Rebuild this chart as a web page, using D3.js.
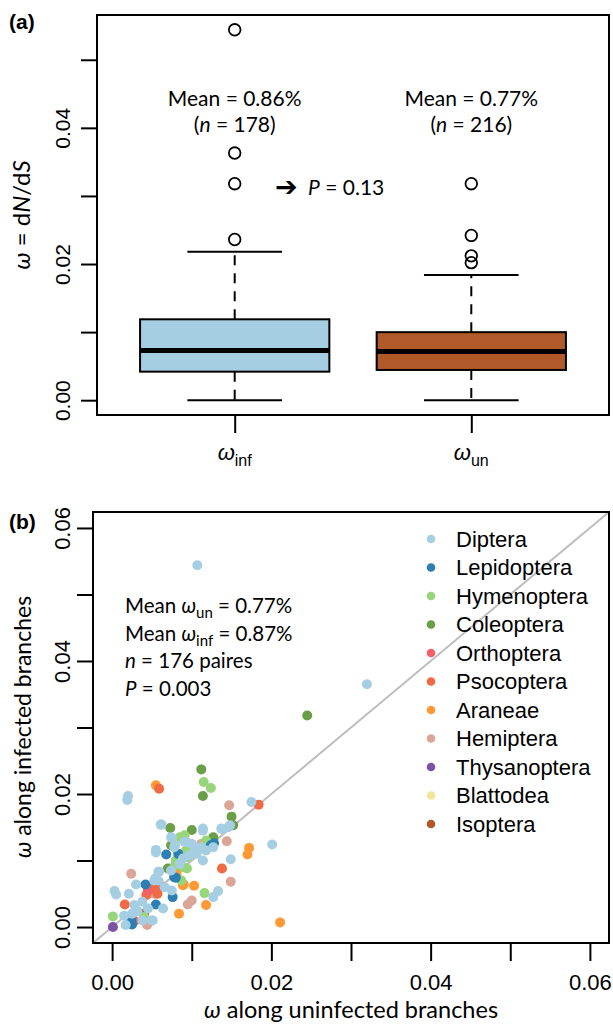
<!DOCTYPE html>
<html>
<head>
<meta charset="utf-8">
<script src="https://cdn.jsdelivr.net/npm/d3@7"></script>
<style>
  body { margin: 0; background: #fff; }
  svg { display: block; }
  .tick text { font-family: "Liberation Sans", Arial, sans-serif; }
</style>
</head>
<body>
<div id="chart"></div>
<script>
// ---- panel (a) : boxplot of omega ----
var groups = ["inf", "un"];
var boxFill = ["#a6cee3", "#b15928"];
var boxQ1 = [0.00419, 0.00444];
var boxMedian = [0.00730, 0.00715];
var boxQ3 = [0.01188, 0.00999];
var whiskLo = [0.0, 0.0];
var whiskHi = [0.02181, 0.01839];
var outliers = [[0.0236, 0.0318, 0.0363, 0.0544], [0.0202, 0.0212, 0.0242, 0.0318]];
var meanText = ["Mean = 0.86%", "Mean = 0.77%"];
var nText = ["178", "216"];
var ticksA = [0, 0.01, 0.02, 0.03, 0.04, 0.05];
var tickLabelsA = [0, 0.02, 0.04];

// ---- panel (b) : infected vs uninfected, by order ----
var orders = ["Diptera", "Lepidoptera", "Hymenoptera", "Coleoptera", "Orthoptera", "Psocoptera",
              "Araneae", "Hemiptera", "Thysanoptera", "Blattodea", "Isoptera"];
var orderColors = ["#a6cee3", "#2b7fb3", "#98d57a", "#6a9e48", "#f26068", "#f06a45",
                   "#fd9a35", "#dba597", "#7b52a6", "#f0e898", "#b0582a"];
// [omega uninfected, omega infected]
var diptera = [[0.0107,0.0544],[0.0320,0.0365],[0.0020,0.0197],[0.0019,0.0191],[0.0061,0.0154],[0.0114,0.0145],
  [0.0075,0.0134],[0.0093,0.0128],[0.0078,0.0120],[0.0055,0.0116],[0.0175,0.0188],[0.0139,0.0147],[0.0146,0.0150],
  [0.0148,0.0153],[0.0137,0.0148],[0.0201,0.0124],[0.0149,0.0102],[0.0127,0.0045],[0.0133,0.0054],[0.0118,0.0115],
  [0.0055,0.0112],[0.0003,0.0054],[0.0005,0.0049],[0.0021,0.0050],[0.0030,0.0064],[0.0050,0.0010],[0.0059,0.0083],
  [0.0053,0.0070],[0.0066,0.0060],[0.0075,0.0055],[0.0028,0.0033],[0.0038,0.0038],[0.0064,0.0028],[0.0015,0.0017],
  [0.0051,0.0010],[0.0038,0.0010],[0.0017,0.0003],[0.0114,0.0100],[0.0074,0.0135],[0.0127,0.0120],[0.0079,0.0123],
  [0.0091,0.0128],[0.0100,0.0125],[0.0104,0.0118],[0.0089,0.0103],[0.0106,0.0110],[0.0074,0.0085],[0.0058,0.0083],
  [0.0054,0.0073],[0.0058,0.0070],[0.0114,0.0148],[0.0025,0.0020],[0.0032,0.0024],[0.0045,0.0028],[0.0085,0.0095],
  [0.0097,0.0108],[0.0062,0.0154],[0.0112,0.0120]];
var lepidoptera = [[0.0124,0.0123],[0.0128,0.0126],[0.0068,0.0109],[0.0083,0.0110],[0.0080,0.0074],[0.0042,0.0064],
  [0.0022,0.0006],[0.0024,0.0010],[0.0025,0.0004],[0.0055,0.0034],[0.0076,0.0045],[0.0078,0.0075]];
var hymenoptera = [[0.0115,0.0218],[0.0124,0.0209],[0.0087,0.0133],[0.0085,0.0135],[0.0091,0.0138],[0.0093,0.0115],
  [0.0095,0.0105],[0.0079,0.0093],[0.0089,0.0090],[0.0087,0.0070],[0.0094,0.0088],[0.0116,0.0051],[0.0001,0.0016],
  [0.0040,0.0015],[0.0118,0.0130],[0.0122,0.0125],[0.0100,0.0110],[0.0080,0.0100]];
var coleoptera = [[0.0112,0.0237],[0.0114,0.0197],[0.0245,0.0318],[0.0073,0.0149],[0.0100,0.0146],[0.0150,0.0166],
  [0.0152,0.0153],[0.0127,0.0132],[0.0127,0.0135],[0.0085,0.0105],[0.0087,0.0108],[0.0074,0.0123],[0.0070,0.0088]];
var orthoptera = [[0.0028,0.0009],[0.0045,0.0055]];
var psocoptera = [[0.0059,0.0208],[0.0184,0.0184],[0.0138,0.0088],[0.0016,0.0034],[0.0043,0.0048],[0.0057,0.0050],
  [0.0049,0.0058],[0.0060,0.0063]];
var araneae = [[0.0055,0.0213],[0.0172,0.0119],[0.0170,0.0109],[0.0118,0.0033],[0.0103,0.0062],[0.0090,0.0064],
  [0.0084,0.0020],[0.0211,0.0007],[0.0081,0.0080],[0.0089,0.0063]];
var hemiptera = [[0.0147,0.0183],[0.0144,0.0129],[0.0149,0.0068],[0.0100,0.0040],[0.0095,0.0034],[0.0024,0.0080],
  [0.0044,0.0003],[0.0053,0.0050],[0.0112,0.0125],[0.0054,0.0060],[0.0048,0.0055]];
var thysanoptera = [[0.0001,0.0000]];
var blattodea = [[0.0090,0.0112]];
var isoptera = [[0.0040,0.0020]];
var orderPoints = [diptera, lepidoptera, hymenoptera, coleoptera, orthoptera, psocoptera,
                   araneae, hemiptera, thysanoptera, blattodea, isoptera];
var ticksB = [0, 0.01, 0.02, 0.03, 0.04, 0.05, 0.06];
var tickLabelsB = [0, 0.02, 0.04, 0.06];

var W = 613, H = 1024;
var annoFont = "Lato, 'Open Sans', sans-serif";
var axFont = "'Liberation Sans', Arial, sans-serif";

var svg = d3.select("#chart").append("svg")
  .attr("width", W).attr("height", H);

// ================= panel (a) =================
var ga = svg.append("g");
var allA = d3.merge(outliers).concat(whiskLo);
var loA = d3.min(allA), hiA = d3.max(allA), padA = 0.04 * (hiA - loA);
var ya = d3.scaleLinear().domain([loA - padA, hiA + padA]).range([415, 15]);
var xa = d3.scalePoint().domain(groups).range([97, 609]).padding(0.582);
var step = xa.step();

ga.append("rect").attr("x", 97).attr("y", 15).attr("width", 512).attr("height", 400)
  .attr("fill", "none").attr("stroke", "#000").attr("stroke-width", 2);

var yAxisA = d3.axisLeft(ya).tickValues(ticksA).tickSize(16)
  .tickFormat(function(d){ return tickLabelsA.indexOf(d) >= 0 ? d3.format(".2f")(d) : ""; });
var yaG = ga.append("g").attr("transform", "translate(97,0)").call(yAxisA);
yaG.select(".domain").remove();
yaG.selectAll(".tick line").attr("stroke-width", 2);
yaG.selectAll(".tick text").attr("font-size", 21).attr("fill", "#000")
  .attr("transform", "rotate(-90)").attr("x", 0).attr("y", -34).attr("dy", "0.35em")
  .attr("text-anchor", "middle");

var xAxisA = d3.axisBottom(xa).tickSize(18).tickFormat("");
var xaG = ga.append("g").attr("transform", "translate(0,415)").call(xAxisA);
xaG.select(".domain").remove();
xaG.selectAll(".tick line").attr("stroke-width", 2);

groups.forEach(function(g, i) {
  var cx = xa(g);
  var lab = ga.append("text").attr("x", cx).attr("y", 460).attr("text-anchor", "middle")
    .attr("font-family", axFont).attr("font-size", 22);
  lab.append("tspan").attr("font-style", "italic").text("ω");
  lab.append("tspan").attr("font-size", 16).attr("dy", 6).text(g);

  // whiskers
  ga.append("line").attr("x1", cx).attr("x2", cx).attr("y1", ya(boxQ3[i])).attr("y2", ya(whiskHi[i]))
    .attr("stroke", "#000").attr("stroke-width", 2).attr("stroke-dasharray", "10,8");
  ga.append("line").attr("x1", cx).attr("x2", cx).attr("y1", ya(boxQ1[i])).attr("y2", ya(whiskLo[i]))
    .attr("stroke", "#000").attr("stroke-width", 2).attr("stroke-dasharray", "10,8");
  [whiskHi[i], whiskLo[i]].forEach(function(v) {
    ga.append("line").attr("x1", cx - step * 0.2).attr("x2", cx + step * 0.2)
      .attr("y1", ya(v)).attr("y2", ya(v)).attr("stroke", "#000").attr("stroke-width", 2);
  });
  ga.append("rect").attr("x", cx - step * 0.4).attr("width", step * 0.8)
    .attr("y", ya(boxQ3[i])).attr("height", ya(boxQ1[i]) - ya(boxQ3[i]))
    .attr("fill", boxFill[i]).attr("stroke", "#000").attr("stroke-width", 2);
  ga.append("line").attr("x1", cx - step * 0.4).attr("x2", cx + step * 0.4)
    .attr("y1", ya(boxMedian[i])).attr("y2", ya(boxMedian[i]))
    .attr("stroke", "#000").attr("stroke-width", 5);
  ga.selectAll(null).data(outliers[i]).enter().append("circle")
    .attr("cx", cx).attr("cy", function(d){ return ya(d); }).attr("r", 5.8)
    .attr("fill", "none").attr("stroke", "#000").attr("stroke-width", 1.8);

  ga.append("text").attr("x", cx).attr("y", 106).attr("text-anchor", "middle")
    .attr("font-family", annoFont).attr("font-size", 21).text(meanText[i]);
  var nt = ga.append("text").attr("x", cx).attr("y", 132).attr("text-anchor", "middle")
    .attr("font-family", annoFont).attr("font-size", 21);
  nt.append("tspan").text("(");
  nt.append("tspan").attr("font-style", "italic").text("n");
  nt.append("tspan").text(" = " + nText[i] + ")");
});

ga.append("text").attr("x", 275).attr("y", 196).attr("font-family", "'DejaVu Sans'")
  .attr("font-size", 27).attr("font-weight", "bold").text("➔");
var pa = ga.append("text").attr("x", 308).attr("y", 195).attr("font-family", annoFont).attr("font-size", 21);
pa.append("tspan").attr("font-style", "italic").text("P");
pa.append("tspan").text(" = 0.13");

var yta = ga.append("text").attr("transform", "translate(30,215) rotate(-90)")
  .attr("text-anchor", "middle").attr("font-family", annoFont).attr("font-size", 24);
yta.append("tspan").attr("font-style", "italic").text("ω");
yta.append("tspan").text(" = d");
yta.append("tspan").attr("font-style", "italic").text("N");
yta.append("tspan").text("/d");
yta.append("tspan").attr("font-style", "italic").text("S");

ga.append("text").attr("x", 9).attr("y", 29).attr("font-family", axFont)
  .attr("font-weight", "bold").attr("font-size", 21).text("(a)");

// ================= panel (b) =================
var gb = svg.append("g");
var limB = [0, 0.06], padB = 0.04 * (limB[1] - limB[0]);
var xb = d3.scaleLinear().domain([limB[0] - padB, limB[1] + padB]).range([93, 609]);
var yb = d3.scaleLinear().domain([limB[0] - padB, limB[1] + padB]).range([943, 512]);

// diagonal y = x
var dom = xb.domain();
gb.append("line").attr("x1", xb(dom[0])).attr("y1", yb(dom[0])).attr("x2", xb(dom[1])).attr("y2", yb(dom[1]))
  .attr("stroke", "#bebebe").attr("stroke-width", 2);

// points, drawn so that Diptera end up on top
for (var k = orders.length - 1; k >= 0; k--) {
  gb.selectAll(null).data(orderPoints[k]).enter().append("circle")
    .attr("cx", function(d){ return xb(d[0]); })
    .attr("cy", function(d){ return yb(d[1]); })
    .attr("r", 5).attr("fill", orderColors[k]);
}

gb.append("rect").attr("x", 93).attr("y", 512).attr("width", 516).attr("height", 431)
  .attr("fill", "none").attr("stroke", "#000").attr("stroke-width", 2);

var fmtB = function(d){ return tickLabelsB.indexOf(d) >= 0 ? d3.format(".2f")(d) : ""; };
var ybG = gb.append("g").attr("transform", "translate(93,0)")
  .call(d3.axisLeft(yb).tickValues(ticksB).tickSize(16).tickFormat(fmtB));
ybG.select(".domain").remove();
ybG.selectAll(".tick line").attr("stroke-width", 2);
ybG.selectAll(".tick text").attr("font-size", 22).attr("fill", "#000")
  .attr("transform", "rotate(-90)").attr("x", 0).attr("y", -31).attr("dy", "0.35em")
  .attr("text-anchor", "middle");

var xbG = gb.append("g").attr("transform", "translate(0,943)")
  .call(d3.axisBottom(xb).tickValues(ticksB).tickSize(18).tickFormat(fmtB));
xbG.select(".domain").remove();
xbG.selectAll(".tick line").attr("stroke-width", 2);
xbG.selectAll(".tick text").attr("font-size", 22).attr("fill", "#000").attr("y", 31).attr("dy", "0.71em");

var xtb = gb.append("text").attr("x", 351).attr("y", 1018).attr("text-anchor", "middle")
  .attr("font-family", annoFont).attr("font-size", 23.5);
xtb.append("tspan").attr("font-style", "italic").text("ω");
xtb.append("tspan").text(" along uninfected branches");
var ytb = gb.append("text").attr("transform", "translate(31,727) rotate(-90)").attr("text-anchor", "middle")
  .attr("font-family", annoFont).attr("font-size", 23);
ytb.append("tspan").attr("font-style", "italic").text("ω");
ytb.append("tspan").text(" along infected branches");

gb.append("text").attr("x", 9).attr("y", 529).attr("font-family", axFont)
  .attr("font-weight", "bold").attr("font-size", 21).text("(b)");

// annotation block
var annoLines = [["Mean ", "ω", "un", " = 0.77%"], ["Mean ", "ω", "inf", " = 0.87%"]];
annoLines.forEach(function(l, i) {
  var t = gb.append("text").attr("x", 125).attr("y", 613 + i * 27.5)
    .attr("font-family", annoFont).attr("font-size", 20.5);
  t.append("tspan").text(l[0]);
  t.append("tspan").attr("font-style", "italic").text(l[1]);
  t.append("tspan").attr("font-size", 15).attr("dy", 5).text(l[2]);
  t.append("tspan").attr("dy", -5).text(l[3]);
});
var t3 = gb.append("text").attr("x", 125).attr("y", 668).attr("font-family", annoFont).attr("font-size", 20.5);
t3.append("tspan").attr("font-style", "italic").text("n");
t3.append("tspan").text(" = 176 paires");
var t4 = gb.append("text").attr("x", 125).attr("y", 695.5).attr("font-family", annoFont).attr("font-size", 20.5);
t4.append("tspan").attr("font-style", "italic").text("P");
t4.append("tspan").text(" = 0.003");

// legend
var leg = gb.selectAll(".leg").data(orders).enter().append("g")
  .attr("transform", function(d, i){ return "translate(431," + (539 + i * 28.5) + ")"; });
leg.append("circle").attr("r", 4.3).attr("fill", function(d, i){ return orderColors[i]; });
leg.append("text").attr("x", 25).attr("dy", "0.36em").attr("font-family", axFont)
  .attr("font-size", 22).text(function(d){ return d; });
</script>
</body>
</html>
